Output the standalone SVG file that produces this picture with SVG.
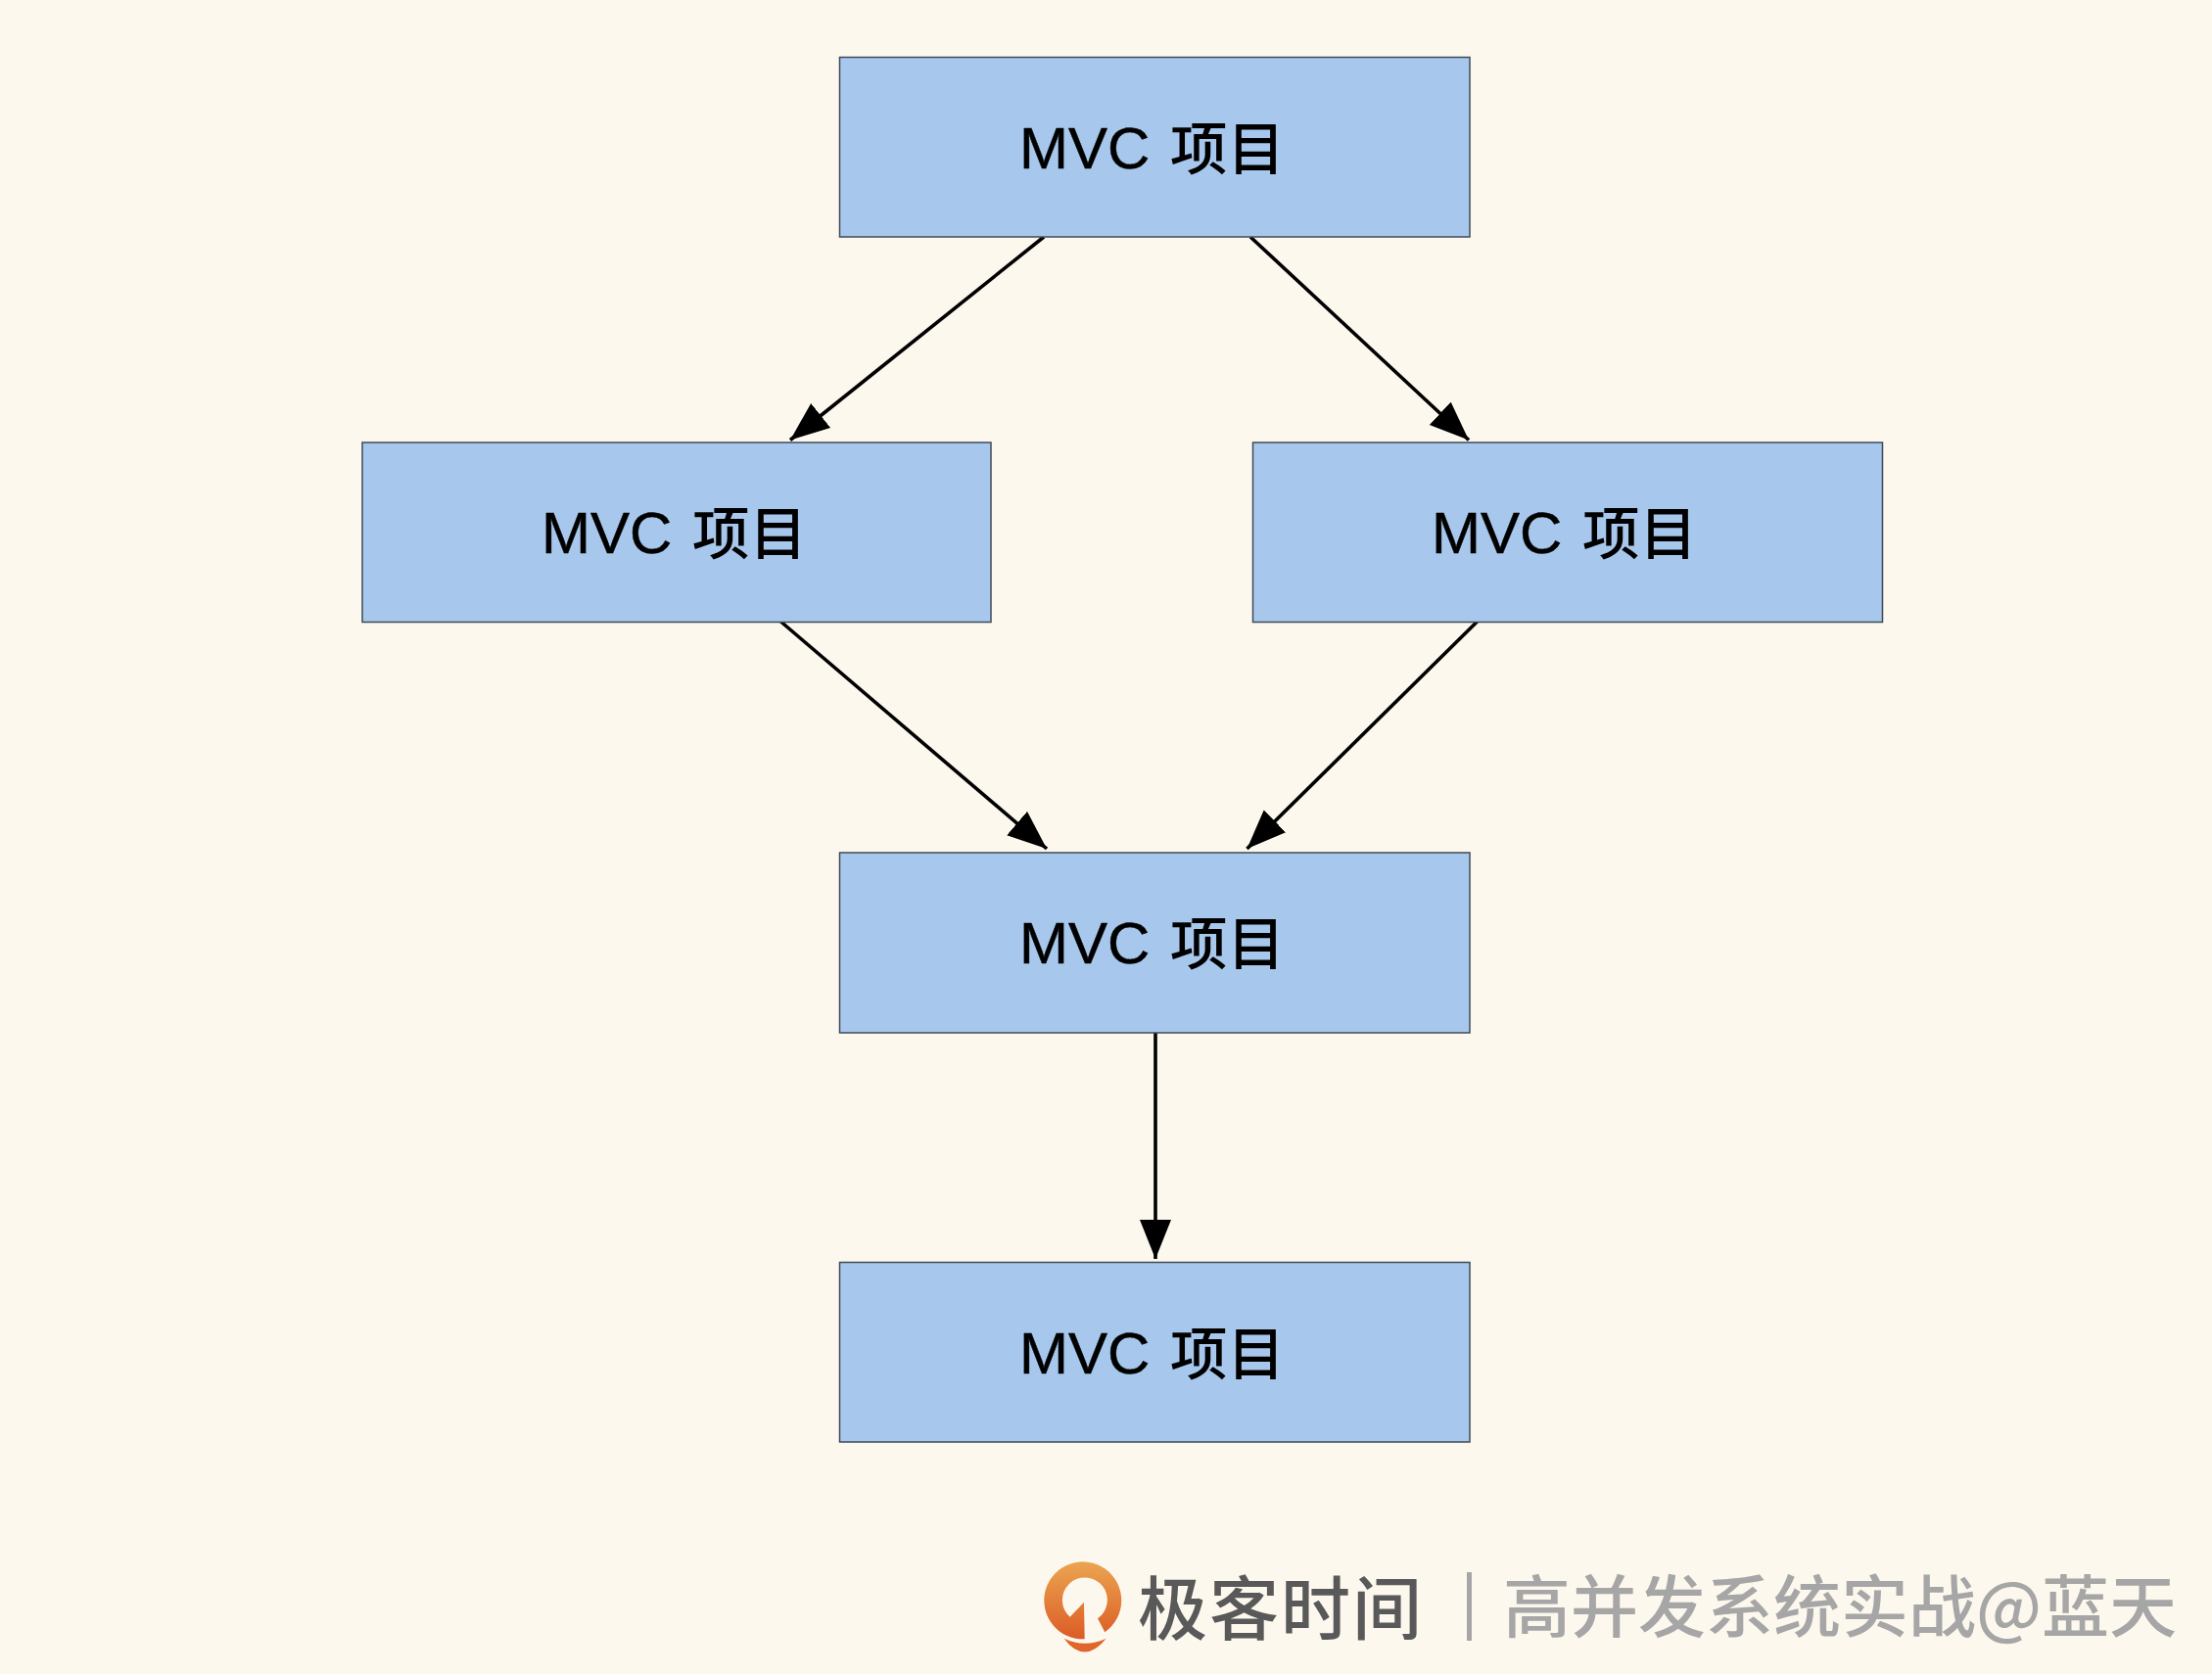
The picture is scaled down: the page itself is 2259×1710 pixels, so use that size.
<svg xmlns="http://www.w3.org/2000/svg" width="2259" height="1710" viewBox="0 0 2259 1710">
<style>
.box{fill:#a7c8ec;stroke:#3f4a57;stroke-width:1.5}
.lbl{font-family:"Liberation Sans","Noto Sans CJK SC",sans-serif;font-size:60px;fill:#000;stroke:#000;stroke-width:.5}
.cjk{font-family:"Noto Sans CJK SC",sans-serif;font-size:58.5px;font-weight:500;stroke-width:0}
.edge{stroke:#000;stroke-width:3.6;fill:none}
.head{fill:#000}
.wm1{font-family:"Noto Sans CJK SC",sans-serif;font-size:71px;font-weight:500;letter-spacing:2px;fill:#595959}
.wm2{font-family:"Noto Sans CJK SC",sans-serif;font-size:69px;font-weight:500;fill:#a6a6a6}
</style>
<defs>
<linearGradient id="logoGrad" x1="0" y1="0" x2="0" y2="1"><stop offset="0" stop-color="#eba551"/><stop offset="1" stop-color="#dc5c25"/></linearGradient>
<marker id="arrow" markerUnits="userSpaceOnUse" markerWidth="42" markerHeight="34" refX="40" refY="16" orient="auto"><path class="head" d="M0 0L40 16L0 32Z"/></marker>
</defs>
<rect width="2259" height="1710" fill="#fdf8ee"/>
<g id="connectors">
<line class="edge" x1="1066" y1="242" x2="807" y2="449.5" marker-end="url(#arrow)"/>
<line class="edge" x1="1277" y1="242" x2="1500" y2="449.5" marker-end="url(#arrow)"/>
<line class="edge" x1="797.5" y1="635" x2="1069" y2="867" marker-end="url(#arrow)"/>
<line class="edge" x1="1508.5" y1="635" x2="1273.5" y2="867" marker-end="url(#arrow)"/>
<line class="edge" x1="1180" y1="1053" x2="1180" y2="1286" marker-end="url(#arrow)"/>
</g>
<g id="node-top"><rect class="box" x="857.5" y="58.5" width="643.5" height="183.5"/><text class="lbl" x="1041" y="172">MVC<tspan class="cjk" x="1195" y="173">项目</tspan></text></g>
<g id="node-left"><rect class="box" x="370" y="452" width="642" height="183.5"/><text class="lbl" x="553" y="565">MVC<tspan class="cjk" x="707" y="566">项目</tspan></text></g>
<g id="node-right"><rect class="box" x="1279.5" y="452" width="643" height="183.5"/><text class="lbl" x="1462" y="565">MVC<tspan class="cjk" x="1616" y="566">项目</tspan></text></g>
<g id="node-middle"><rect class="box" x="857.5" y="871" width="643.5" height="184"/><text class="lbl" x="1041" y="984">MVC<tspan class="cjk" x="1195" y="985">项目</tspan></text></g>
<g id="node-bottom"><rect class="box" x="857.5" y="1289.5" width="643.5" height="183.5"/><text class="lbl" x="1041" y="1403">MVC<tspan class="cjk" x="1195" y="1404">项目</tspan></text></g>
<g id="watermark">
<path fill="url(#logoGrad)" d="M1107.7 1674.3A39.5 39.5 0 1 1 1128.3 1667.3L1121 1653.3A23 23 0 1 0 1092.7 1651.7L1107 1636.7Z"/>
<path fill="#e0662b" d="M1086.7 1673.7Q1108 1684 1129.7 1673.7Q1119 1687 1108 1687.5Q1096 1687 1086.7 1673.7Z"/>
<text class="wm1" x="1162" y="1669">极客时间</text>
<rect x="1498" y="1606" width="5" height="70" fill="#a6a6a6"/>
<text class="wm2" x="1535" y="1667">高并发系统实战@蓝天</text>
</g>
</svg>
